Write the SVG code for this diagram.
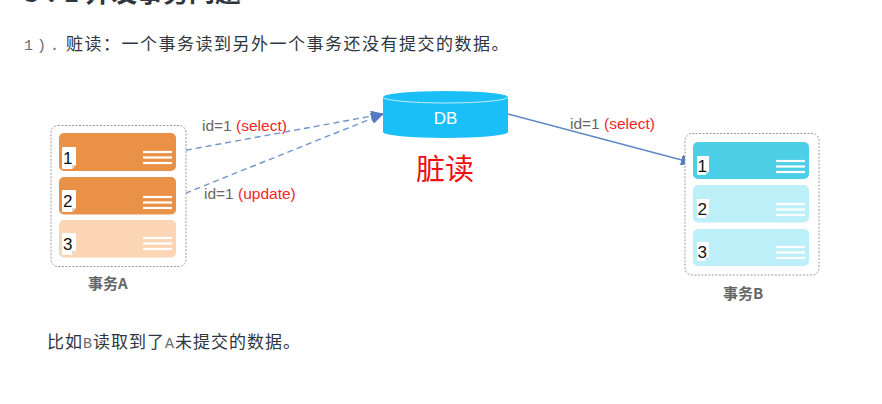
<svg xmlns="http://www.w3.org/2000/svg" width="882" height="404" viewBox="0 0 882 404">
  <style>
    .cn { font-family: "Noto Sans CJK SC", "Liberation Sans", sans-serif; }
    .body { font-size: 17px; fill: #2f3640; }
    .mono { font-family: "Liberation Mono", "DejaVu Sans Mono", monospace; fill: #6b6b6b; }
    .lbl { font-family: "Liberation Sans", "Noto Sans CJK SC", sans-serif; font-size: 15.5px; fill: #666; }
    .red { fill: #f0262a; }
    .frame { fill: #fff; stroke: #9a9a9a; stroke-width: 1; stroke-dasharray: 2 1.5; }
    .lines { stroke: #fff; stroke-width: 2.2; }
    .num { font-family: "Liberation Sans", sans-serif; font-size: 17px; fill: #111; }
    .cap { font-family: "Noto Sans CJK SC", sans-serif; font-size: 15px; font-weight: bold; fill: #666; }
    .dash { fill: none; stroke: #6f96cf; stroke-width: 1.4; stroke-dasharray: 6 4; }
    .solid { fill: none; stroke: #5c86c4; stroke-width: 1.3; }
  </style>
  <defs>
    <!-- small page icon with folded corner -->
    <symbol id="page" viewBox="0 0 14 22" overflow="visible">
      <path d="M0 0 H14 V18 L10 22 H0 Z" fill="#fff"/>
      <path d="M14 18 L10 22 V18 Z" fill="#d8d8d8"/>
    </symbol>
    <g id="bars">
      <line x1="0" y1="0" x2="29" y2="0"/>
      <line x1="0" y1="5.5" x2="29" y2="5.5"/>
      <line x1="0" y1="11" x2="29" y2="11"/>
    </g>
    <marker id="arrow" markerWidth="13" markerHeight="11" refX="12" refY="5.5" orient="auto" markerUnits="userSpaceOnUse">
      <path d="M0 0 L13 5.5 L0 11 Z" fill="#4f7cc3"/>
    </marker>
  </defs>

  <rect width="882" height="404" fill="#fff"/>

  <!-- section heading (scrolled partly out of view) -->
  <text y="2" class="cn" font-size="26" font-weight="bold" fill="#2f3640"><tspan x="24" letter-spacing="8">3.1</tspan><tspan x="85">并发事务问题</tspan></text>

  <text y="50"><tspan x="24" class="mono" font-size="15" letter-spacing="4">1).</tspan><tspan x="66" class="cn body" letter-spacing="1.5">赃读：一个事务读到另外一个事务还没有提交的数据。</tspan></text>

  <!-- connectors -->
  <g id="connectors">
    <line class="dash" x1="176" y1="152" x2="383" y2="114" marker-end="url(#arrow)"/>
    <line class="dash" x1="176" y1="197" x2="383" y2="114" marker-end="url(#arrow)"/>
    <line class="solid" x1="508" y1="114" x2="693" y2="163" marker-end="url(#arrow)"/>
    <text x="202" y="131" class="lbl">id=1 <tspan class="red">(select)</tspan></text>
    <text x="204" y="199" class="lbl">id=1 <tspan class="red">(update)</tspan></text>
    <text x="570" y="129" class="lbl">id=1 <tspan class="red">(select)</tspan></text>
  </g>

  <!-- transaction A -->
  <g id="txA">
    <rect class="frame" x="51" y="125.5" width="135" height="141" rx="7"/>
    <rect x="59" y="133" width="117" height="38" rx="5" fill="#ea9148"/>
    <rect x="59" y="177" width="117" height="37.5" rx="5" fill="#ea9148"/>
    <rect x="59" y="220" width="117" height="37.5" rx="5" fill="#fcd5b5"/>
    <use href="#page" x="62" y="147" width="14" height="22"/>
    <use href="#page" x="62" y="190" width="14" height="22"/>
    <use href="#page" x="62" y="233" width="14" height="22"/>
    <text x="63" y="164" class="num">1</text>
    <text x="63" y="207" class="num">2</text>
    <text x="63" y="250" class="num">3</text>
    <use href="#bars" x="143" y="152" class="lines"/>
    <use href="#bars" x="143" y="197" class="lines"/>
    <use href="#bars" x="143" y="238" class="lines"/>
    <text x="88" y="289" class="cap">事务A</text>
  </g>

  <!-- database -->
  <g id="db">
    <path d="M383 97 V132 A62.5 6 0 0 0 508 132 V97 Z" fill="#1bbff7"/>
    <ellipse cx="445.5" cy="97" rx="62.5" ry="6" fill="#1bbff7"/>
    <path d="M383 97 A62.5 6 0 0 0 508 97" fill="none" stroke="#bfeeff" stroke-width="1"/>
    <text x="445.5" y="124" text-anchor="middle" font-family="Liberation Sans, sans-serif" font-size="17" fill="#fff">DB</text>
  </g>

  <text x="445" y="180" text-anchor="middle" class="cn" font-size="29" fill="#ee1111">脏读</text>

  <!-- transaction B -->
  <g id="txB">
    <rect class="frame" x="685" y="133.5" width="134" height="141.5" rx="7"/>
    <rect x="693" y="142" width="116" height="37" rx="5" fill="#4dcfe8"/>
    <rect x="693" y="185" width="116" height="37.5" rx="5" fill="#bdeff9"/>
    <rect x="693" y="229" width="116" height="37" rx="5" fill="#bdeff9"/>
    <use href="#page" x="697" y="155" width="12" height="21"/>
    <use href="#page" x="697" y="198" width="12" height="21"/>
    <use href="#page" x="697" y="241" width="12" height="21"/>
    <text x="697.5" y="172" class="num">1</text>
    <text x="697.5" y="215" class="num">2</text>
    <text x="697.5" y="258" class="num">3</text>
    <use href="#bars" x="776" y="161" class="lines"/>
    <use href="#bars" x="776" y="204" class="lines"/>
    <use href="#bars" x="776" y="247" class="lines"/>
    <text x="723" y="299" class="cap">事务B</text>
  </g>

  <text y="348" class="cn body" letter-spacing="1"><tspan x="47">比如</tspan><tspan class="mono" font-size="15">B</tspan><tspan>读取到了</tspan><tspan class="mono" font-size="15">A</tspan><tspan>未提交的数据。</tspan></text>
</svg>
